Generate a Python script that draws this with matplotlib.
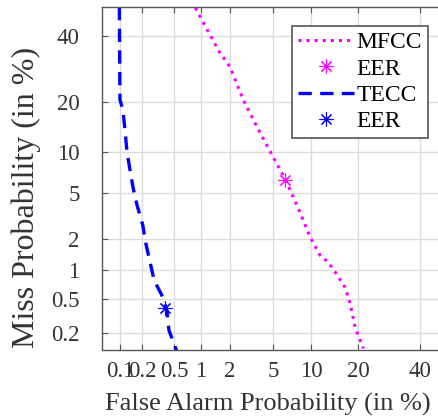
from statistics import NormalDist

import numpy as np
import matplotlib
matplotlib.use("Agg")
import matplotlib.pyplot as plt

# DET curves, values in percent
tecc_fa = [0.098, 0.10, 0.11, 0.117, 0.125, 0.137, 0.150, 0.170, 0.202, 0.221,
           0.251, 0.282, 0.352, 0.405, 0.43, 0.53]
tecc_miss = [50.0, 20.6, 18.1, 13.9, 10.0, 7.5, 5.6, 4.0, 2.7, 1.85,
             1.21, 0.79, 0.545, 0.37, 0.215, 0.12]
tecc_eer = 0.39

mfcc_fa = [0.87, 1.57, 2.02, 2.71, 3.87, 5.02, 6.43, 7.98, 8.71, 9.81,
           11.5, 13.1, 15.0, 16.8, 18.0, 19.3, 21.5]
mfcc_miss = [49.7, 34.6, 29.8, 20.6, 13.3, 9.26, 6.2, 3.78, 2.98, 2.10,
             1.42, 1.21, 0.89, 0.66, 0.44, 0.23, 0.128]
mfcc_eer = 6.3

x_ticks = [0.1, 0.2, 0.5, 1, 2, 5, 10, 20, 40]
x_labels = ["0.1", "0.2", "0.5", "1", "2", "5", "10", "20", "40"]
y_ticks = [0.2, 0.5, 1, 2, 5, 10, 20, 40]
y_labels = ["0.2", "0.5", "1", "2", "5", "10", "20", "40"]

_nd = NormalDist()
_ppf = np.vectorize(_nd.inv_cdf, otypes=[float])
_cdf = np.vectorize(_nd.cdf, otypes=[float])


def probit(p):
    p = np.clip(np.asarray(p, dtype=float) / 100.0, 1e-9, 1 - 1e-9)
    return _ppf(p)


def inv_probit(z):
    return _cdf(np.asarray(z, dtype=float)) * 100.0


plt.rcParams['font.family'] = ['Liberation Serif', 'DejaVu Serif']

fig = plt.figure(figsize=(4.39, 4.20), dpi=100)
# the right edge of the axes box lies just outside the picture, as in the source
ax = fig.add_axes([102 / 439, 70 / 420, 345 / 439, 343 / 420])

ax.set_xscale('function', functions=(probit, inv_probit))
ax.set_yscale('function', functions=(probit, inv_probit))

asterisk = (8, 2, 0)
ax.plot(mfcc_fa, mfcc_miss, color='#ff00ff', linestyle=':', linewidth=2.2,
        label='MFCC')
ax.plot([mfcc_eer], [mfcc_eer], linestyle='none', marker=asterisk,
        markersize=10, color='#ff00ff', markeredgewidth=0.8, label='EER')
ax.plot(tecc_fa, tecc_miss, color='#0000ff', linestyle=(0, (4, 2.5)),
        linewidth=2.4, label='TECC')
ax.plot([tecc_eer], [tecc_eer], linestyle='none', marker=asterisk,
        markersize=10, color='#0000ff', markeredgewidth=0.8, label='EER')

ax.set_xlim(inv_probit(-3.26), 50)
ax.set_ylim(inv_probit(-3.03), 50)

ax.set_xticks(x_ticks)
ax.set_xticklabels(x_labels)
ax.set_yticks(y_ticks)
ax.set_yticklabels(y_labels)
ax.minorticks_off()

ax.grid(True, color='#dcdcdc', linewidth=1.0)
ax.set_axisbelow(True)
for s in ax.spines.values():
    s.set_color('#555555')
    s.set_linewidth(1.0)
ax.tick_params(direction='in', length=4, width=0.8, colors='#555555',
               top=True, right=True, labelsize=16.5, labelcolor='#333333')
ax.tick_params(axis='x', pad=8)
ax.tick_params(axis='y', pad=16)

ax.set_xlabel('False Alarm Probability (in %)', fontsize=19, color='#333333')
ax.xaxis.set_label_coords((268 - 102) / 345, -(393 - 350) / 343)
ax.set_ylabel('Miss Probability (in %)', fontsize=23, color='#333333')
ax.yaxis.set_label_coords((41 - 102) / 345, (350 - 197) / 343)

leg = ax.legend(loc='upper right', fontsize=17, handlelength=2.4,
                labelspacing=0.2, borderpad=0.25, handletextpad=0.1,
                fancybox=False, framealpha=1.0, borderaxespad=0)
leg.get_frame().set_edgecolor('#555555')
leg.get_frame().set_linewidth(1.2)
leg.set_bbox_to_anchor((428 / 439, 1 - 26 / 420), transform=fig.transFigure)

fig.savefig('out.png', dpi=100)
